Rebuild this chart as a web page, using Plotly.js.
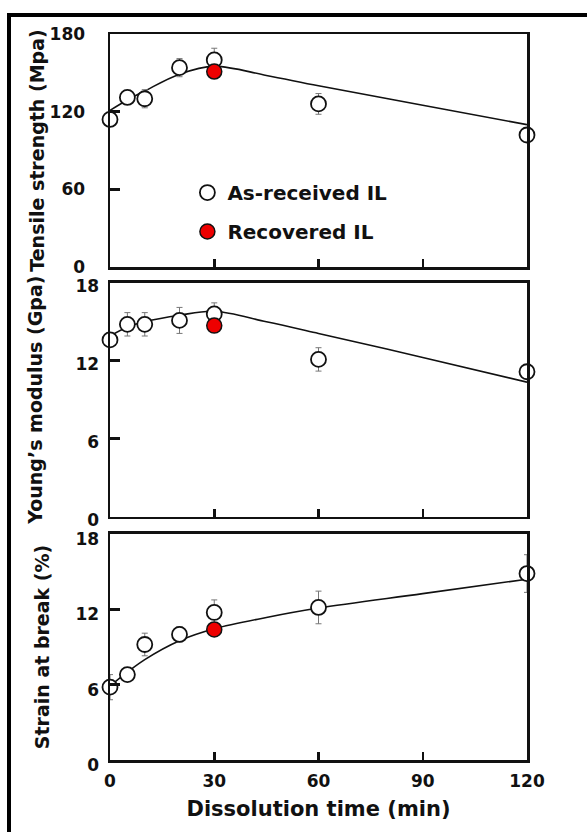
<!DOCTYPE html>
<html>
<head>
<meta charset="utf-8">
<script src="https://cdn.plot.ly/plotly-3.0.1.min.js"></script>
<style>html,body{margin:0;padding:0;background:#fff;}#chart{width:587px;height:832px;}</style>
</head>
<body>
<div id="chart"></div>
<script>
// ---- data ----
const time = [0, 5, 10, 20, 30, 60, 120];
const recTime = [30];
const fitTime = [0, 5, 10, 20, 30, 45, 60, 90, 120];

const tensile = [114, 131, 130, 154, 160, 126, 102];
const tensileErr = [3, 5, 7, 7, 9, 8, 3];
const tensileRec = [151];
const tensileFit = [121, 129, 136, 149, 155, 148, 140, 125, 110];

const modulus = [13.6, 14.8, 14.8, 15.1, 15.6, 12.1, 11.15];
const modulusErr = [0.4, 0.9, 0.9, 1.0, 0.85, 0.9, 0.4];
const modulusRec = [14.7];
const modulusFit = [13.9, 14.6, 15.0, 15.5, 15.8, 15.0, 14.1, 12.25, 10.35];

const strain = [5.8, 6.8, 9.2, 10.0, 11.75, 12.15, 14.85];
const strainErr = [1.0, 0.5, 0.9, 0.6, 1.0, 1.3, 1.5];
const strainRec = [10.4];
const strainFit = [5.9, 7.0, 8.0, 9.5, 10.45, 11.35, 12.1, 13.25, 14.4];

const xTicks = [0, 30, 60, 90, 120];
const tensileTicks = [0, 60, 120, 180];
const gpaTicks = [0, 6, 12, 18];

const seriesNames = ['As-received IL', 'Recovered IL'];
const yTitles = ['Tensile strength (Mpa)', 'Young\u2019s modulus (Gpa)', 'Strain at break (%)'];
const xTitle = 'Dissolution time (min)';

// ---- styling ----
const FONT = 'DejaVu Sans, sans-serif';
const panels = [
  {ax: '', val: tensile, err: tensileErr, rec: tensileRec, fit: tensileFit},
  {ax: '2', val: modulus, err: modulusErr, rec: modulusRec, fit: modulusFit},
  {ax: '3', val: strain, err: strainErr, rec: strainRec, fit: strainFit}
];

const traces = [];
panels.forEach((p, i) => {
  const xa = 'x' + p.ax, ya = 'y' + p.ax;
  traces.push({
    x: fitTime, y: p.fit, xaxis: xa, yaxis: ya, type: 'scatter', mode: 'lines',
    line: {color: '#111', width: 1.6, shape: 'spline', smoothing: 1},
    showlegend: false, hoverinfo: 'skip', cliponaxis: false
  });
  traces.push({
    x: time, y: p.val, xaxis: xa, yaxis: ya, type: 'scatter', mode: 'markers',
    name: seriesNames[0], legendgroup: 'a', showlegend: i === 0, cliponaxis: false,
    marker: {symbol: 'circle', size: 15, color: '#fff', line: {color: '#111', width: 1.8}},
    error_y: {type: 'data', array: p.err, visible: true, color: '#777', thickness: 1, width: 3}
  });
  traces.push({
    x: recTime, y: p.rec, xaxis: xa, yaxis: ya, type: 'scatter', mode: 'markers',
    name: seriesNames[1], legendgroup: 'b', showlegend: i === 0, cliponaxis: false,
    marker: {symbol: 'circle', size: 15, color: '#ee0000', line: {color: '#111', width: 1.5}}
  });
});

const tickFont = {family: FONT, size: 17, color: '#111', weight: 700};
const titleFont = {family: FONT, size: 19, color: '#111', weight: 700};

function xAxis(anchor, labels) {
  return {
    anchor: anchor, domain: [0, 1], range: [0, 120], tickvals: xTicks,
    ticks: 'inside', ticklen: 8, tickwidth: 2.5, tickcolor: '#111',
    showline: true, linewidth: 2.5, linecolor: '#111', mirror: true,
    showgrid: false, zeroline: false, showticklabels: labels,
    tickfont: tickFont, ticklabelstandoff: 4,
    title: labels ? {text: xTitle, font: {family: FONT, size: 21, color: '#111', weight: 700}, standoff: 12} : undefined
  };
}
function yAxis(anchor, dom, range, ticks, title, shift, lblGap, titleGap) {
  return {
    anchor: anchor, domain: dom, range: range, tickvals: ticks,
    ticks: 'inside', ticklen: 10, tickwidth: 2.5, tickcolor: '#111',
    showline: true, linewidth: 2.5, linecolor: '#111', mirror: true,
    showgrid: false, zeroline: false, tickfont: tickFont, ticklabelstandoff: lblGap,
    ticklabelshift: shift,
    title: {text: title, font: titleFont, standoff: titleGap}
  };
}

const layout = {
  width: 587, height: 832,
  margin: {l: 110, r: 60, t: 34, b: 72},
  paper_bgcolor: '#fff', plot_bgcolor: '#fff',
  showlegend: true,
  legend: {
    x: 0.1856, y: 0.8085, xref: 'paper', yref: 'paper', xanchor: 'left', yanchor: 'top',
    bgcolor: 'rgba(0,0,0,0)', borderwidth: 0, traceorder: 'grouped', tracegroupgap: 10,
    font: {family: FONT, size: 20, color: '#111', weight: 700}, itemwidth: 30
  },
  xaxis: xAxis('y', false),
  yaxis: yAxis('x', [0.679, 1], [0, 180], tensileTicks, yTitles[0], 0, 19, 0),
  xaxis2: xAxis('y2', false),
  yaxis2: yAxis('x2', [0.3352, 0.6574], [0, 18], gpaTicks, yTitles[1], 3, 5, 28),
  xaxis3: xAxis('y3', true),
  yaxis3: yAxis('x3', [0, 0.3113], [0, 18], gpaTicks, yTitles[2], 5, 5, 21),
  shapes: [
    {type: 'line', xref: 'paper', yref: 'paper', x0: -0.247, x1: 1.15, y0: 1.0262, y1: 1.0262, line: {color: '#000', width: 4}},
    {type: 'line', xref: 'paper', yref: 'paper', x0: -0.2422, x1: -0.2422, y0: 1.029, y1: -0.11, line: {color: '#000', width: 4}}
  ]
};

Plotly.newPlot('chart', traces, layout, {displayModeBar: false, staticPlot: true});
</script>
</body>
</html>
